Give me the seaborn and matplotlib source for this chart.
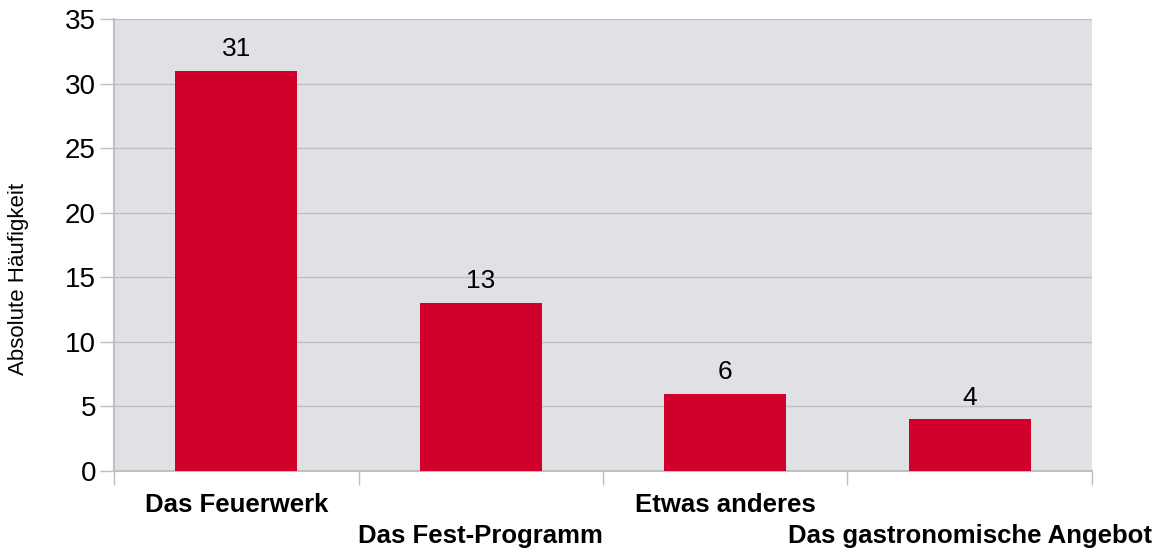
import matplotlib
matplotlib.use("Agg")
import matplotlib.pyplot as plt
import seaborn as sns
import pandas as pd
import numpy as np

categories = ["Das Feuerwerk", "Das Fest-Programm", "Etwas anderes", "Das gastronomische Angebot"]
counts = [31, 13, 6, 4]

df = pd.DataFrame({"kategorie": categories, "anzahl": counts})

sns.set_style("whitegrid")
plt.rcParams['font.family'] = ['Liberation Sans', 'DejaVu Sans']
plt.rcParams['text.color'] = 'black'
plt.rcParams['axes.labelcolor'] = 'black'
plt.rcParams['xtick.color'] = 'black'
plt.rcParams['ytick.color'] = 'black'

fig = plt.figure(figsize=(11.67, 5.5), dpi=100)
ax = fig.add_axes([0.0977, 0.1436, 0.838, 0.822])
ax.set_facecolor("#e0e1e5")

sns.barplot(data=df, x="kategorie", y="anzahl", color="#d0002a", width=0.5,
            saturation=1, linewidth=0, ax=ax, zorder=3)

for i, v in enumerate(counts):
    ax.annotate(str(v), (i, v), xytext=(0, 7), textcoords="offset points",
                ha="center", va="bottom", fontsize=19)

ax.set_ylim(0, 35)
ax.set_xlim(-0.5, len(categories) - 0.5)
ax.set_yticks(range(0, 36, 5))
ax.grid(axis="y", color="#bfbfbf", linewidth=1, zorder=0)
ax.grid(axis="x", visible=False)
ax.tick_params(axis="y", labelsize=20, length=10, color="#bfbfbf", labelcolor="black",
               width=1, left=True, pad=3)

ax.set_xticks(range(len(categories)))
ax.set_xticklabels(categories, fontsize=18.5, fontweight="bold", color="black")
ax.tick_params(axis="x", which="major", length=0, pad=16)
# staggered labels: every second one lower
for i, tick in enumerate(ax.xaxis.get_major_ticks()):
    if i % 2 == 1:
        tick.set_pad(38)
ax.set_xticks(np.arange(-0.5, len(categories)), minor=True)
ax.tick_params(axis="x", which="minor", length=10, color="#bfbfbf", width=1, bottom=True)

for side in ["top", "right"]:
    ax.spines[side].set_visible(False)
for side in ["left", "bottom"]:
    ax.spines[side].set_color("#bfbfbf")
    ax.spines[side].set_linewidth(1.5)

ax.set_xlabel("")
ax.set_ylabel("Absolute Häufigkeit", fontsize=16)
ax.yaxis.set_label_coords(-0.087, 0.425)

fig.savefig("out.png", dpi=100)
